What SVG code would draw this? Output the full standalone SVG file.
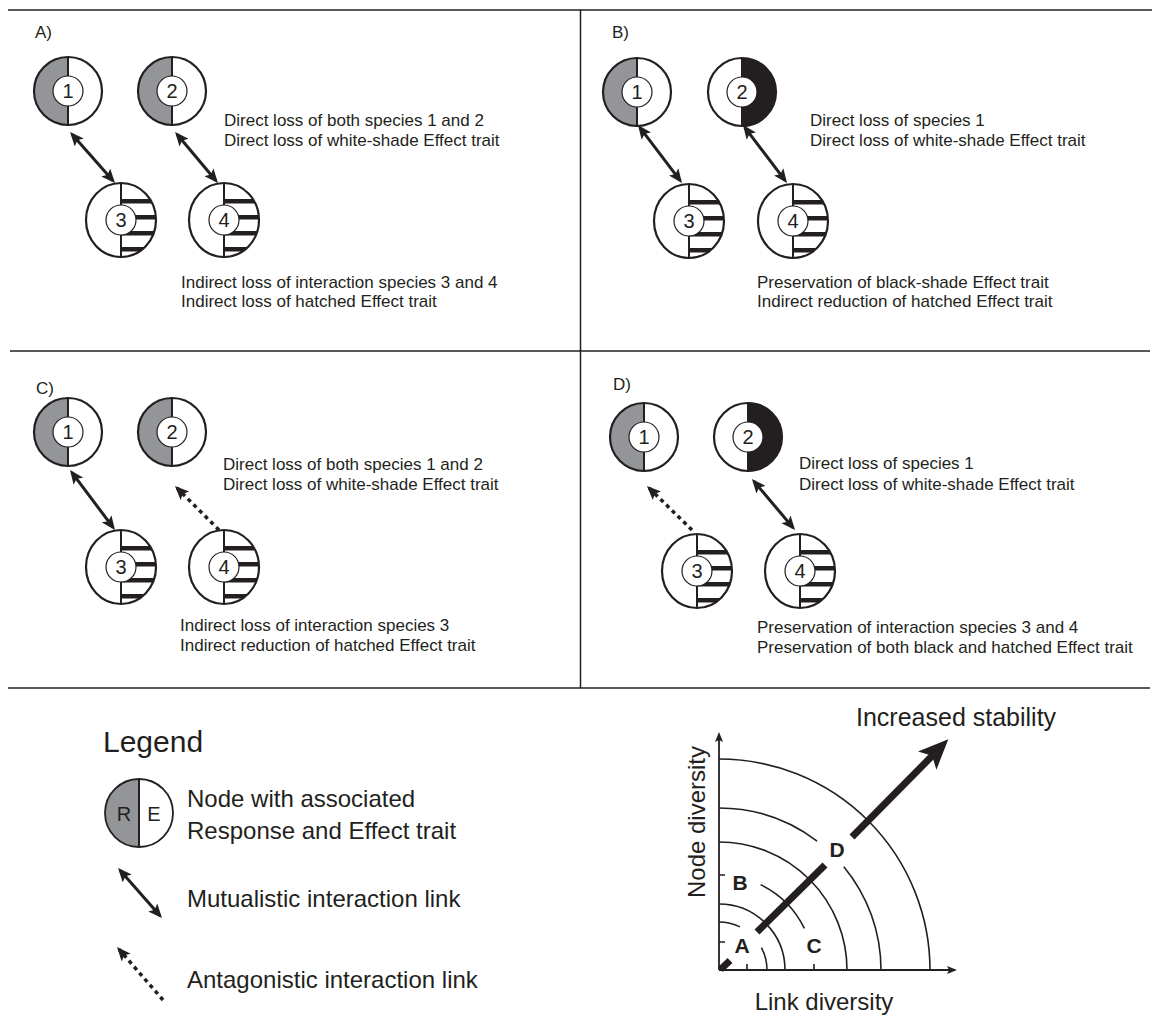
<svg xmlns="http://www.w3.org/2000/svg" width="1165" height="1017" viewBox="0 0 1165 1017">
<style>
text{font-family:"Liberation Sans",Arial,sans-serif;fill:#231f20}
.t{font-size:17px}
.lbl{font-size:17px}
.num{font-size:20px;text-anchor:middle}
.frame{stroke:#231f20;stroke-width:1.5;fill:none}
.ol{fill:none;stroke:#231f20;stroke-width:2.2}
.dv{stroke:#231f20;stroke-width:2}
.inner{fill:#fff;stroke:#231f20;stroke-width:1.2}
.mut{stroke:#231f20;stroke-width:3;fill:none;marker-start:url(#ah);marker-end:url(#ah)}
.ant{stroke:#231f20;stroke-width:3.5;stroke-dasharray:4 4;fill:none;marker-end:url(#ah)}
.arc{fill:none;stroke:#231f20;stroke-width:1.6}
.thick{stroke:#231f20;stroke-width:7;fill:none}
.big{font-size:24px}
.bl{font-size:21px;font-weight:bold;text-anchor:middle}
</style>
<defs>
<marker id="ah" viewBox="0 0 14 12" refX="11" refY="6" markerWidth="14" markerHeight="12" markerUnits="userSpaceOnUse" orient="auto-start-reverse"><path d="M0,0 L14,6 L0,12 L3,6 z" fill="#231f20"/></marker>
<marker id="ax" viewBox="0 0 10 8" refX="8" refY="4" markerWidth="10" markerHeight="8" markerUnits="userSpaceOnUse" orient="auto"><path d="M0,0 L10,4 L0,8 L2,4 z" fill="#231f20"/></marker>
<clipPath id="rhc" clipPathUnits="userSpaceOnUse"><path d="M0,-37 A35,37 0 0 1 0,37 Z"/></clipPath>
<g id="gn">
<path d="M0,-34 A34,34 0 0 0 0,34 Z" fill="#939598"/>
<circle r="34" class="ol"/>
<line x1="0" y1="-34" x2="0" y2="34" class="dv"/>
<circle r="15" class="inner"/>
</g>
<g id="bn">
<path d="M0,-34 A34,34 0 0 1 0,34 Z" fill="#231f20"/>
<circle r="34" class="ol"/>
<line x1="0" y1="-34" x2="0" y2="34" class="dv"/>
<circle r="15" class="inner"/>
</g>
<g id="hn">
<g clip-path="url(#rhc)" fill="#231f20">
<rect x="0" y="-21" width="36" height="4.5"/>
<rect x="0" y="-5" width="36" height="4.5"/>
<rect x="0" y="11" width="36" height="4.5"/>
<rect x="0" y="27" width="36" height="4.5"/>
</g>
<ellipse rx="35" ry="37" class="ol"/>
<line x1="0" y1="-37" x2="0" y2="37" class="dv"/>
<circle r="15" class="inner"/>
</g>
</defs>

<g id="frame" class="frame">
<line x1="8" y1="10" x2="1152" y2="10"/>
<line x1="10" y1="351" x2="1150" y2="351"/>
<line x1="8" y1="688" x2="1150" y2="688"/>
<line x1="580.5" y1="10" x2="580.5" y2="688"/>
</g>

<!-- Panel A -->
<g id="panelA">
<text class="lbl" x="35" y="38">A)</text>
<g id="A1" transform="translate(68,91)"><use href="#gn"/><text class="num" y="7">1</text></g>
<g id="A2" transform="translate(172,91)"><use href="#gn"/><text class="num" y="7">2</text></g>
<g id="A3" transform="translate(121,220)"><use href="#hn"/><text class="num" y="7">3</text></g>
<g id="A4" transform="translate(224,220)"><use href="#hn"/><text class="num" y="7">4</text></g>
<text class="t" x="224" y="126">Direct loss of both species 1 and 2</text>
<text class="t" x="224" y="146">Direct loss of white-shade Effect trait</text>
<text class="t" x="181" y="288">Indirect loss of interaction species 3 and 4</text>
<text class="t" x="181" y="307">Indirect loss of hatched Effect trait</text>
</g>

<!-- Panel B -->
<g id="panelB">
<text class="lbl" x="612" y="38">B)</text>
<g id="B1" transform="translate(637,92)"><use href="#gn"/><text class="num" y="7">1</text></g>
<g id="B2" transform="translate(742,92)"><use href="#bn"/><text class="num" y="7">2</text></g>
<g id="B3" transform="translate(689,221)"><use href="#hn"/><text class="num" y="7">3</text></g>
<g id="B4" transform="translate(793,221)"><use href="#hn"/><text class="num" y="7">4</text></g>
<text class="t" x="810" y="126">Direct loss of species 1</text>
<text class="t" x="810" y="146">Direct loss of white-shade Effect trait</text>
<text class="t" x="757" y="288">Preservation of black-shade Effect trait</text>
<text class="t" x="757" y="307">Indirect reduction of hatched Effect trait</text>
</g>

<!-- Panel C -->
<g id="panelC">
<text class="lbl" x="36" y="394">C)</text>
<g id="C1" transform="translate(68,432)"><use href="#gn"/><text class="num" y="7">1</text></g>
<g id="C2" transform="translate(172,432)"><use href="#gn"/><text class="num" y="7">2</text></g>
<g id="C3" transform="translate(121,567)"><use href="#hn"/><text class="num" y="7">3</text></g>
<g id="C4" transform="translate(224,567)"><use href="#hn"/><text class="num" y="7">4</text></g>
<text class="t" x="223" y="470">Direct loss of both species 1 and 2</text>
<text class="t" x="223" y="490">Direct loss of white-shade Effect trait</text>
<text class="t" x="180" y="631">Indirect loss of interaction species 3</text>
<text class="t" x="180" y="651">Indirect reduction of hatched Effect trait</text>
</g>

<!-- Panel D -->
<g id="panelD">
<text class="lbl" x="613" y="390">D)</text>
<g id="D1" transform="translate(644,437)"><use href="#gn"/><text class="num" y="7">1</text></g>
<g id="D2" transform="translate(748,437)"><use href="#bn"/><text class="num" y="7">2</text></g>
<g id="D3" transform="translate(697,571)"><use href="#hn"/><text class="num" y="7">3</text></g>
<g id="D4" transform="translate(800,571)"><use href="#hn"/><text class="num" y="7">4</text></g>
<text class="t" x="799" y="469">Direct loss of species 1</text>
<text class="t" x="799" y="490">Direct loss of white-shade Effect trait</text>
<text class="t" x="757" y="633">Preservation of interaction species 3 and 4</text>
<text class="t" x="757" y="653">Preservation of both black and hatched Effect trait</text>
</g>

<!-- Connectors -->
<g id="connectors">
<line class="mut" x1="72" y1="134.3" x2="113" y2="180.7"/>
<line class="mut" x1="177" y1="134.3" x2="216" y2="180.7"/>
<line class="mut" x1="639.8" y1="127.4" x2="680.2" y2="180.6"/>
<line class="mut" x1="744.8" y1="127.4" x2="785.2" y2="180.6"/>
<line class="mut" x1="71.8" y1="472.4" x2="113.2" y2="527.6"/>
<line class="ant" x1="219" y1="530" x2="177.1" y2="488.1"/>
<line class="ant" x1="692" y1="530" x2="649.1" y2="488.1"/>
<line class="mut" x1="753.9" y1="481.3" x2="793.1" y2="527.7"/>
</g>

<!-- Legend -->
<g id="legend">
<text x="103" y="752" style="font-size:30px">Legend</text>
<g id="legendNode" transform="translate(139,813)">
<path d="M0,-34 A34,34 0 0 0 0,34 Z" fill="#939598"/>
<circle r="34" fill="none" stroke="#231f20" stroke-width="1.8"/>
<line x1="0" y1="-34" x2="0" y2="34" stroke="#231f20" stroke-width="2"/>
<text x="-15" y="8" style="font-size:20px;text-anchor:middle">R</text>
<text x="15" y="8" style="font-size:20px;text-anchor:middle">E</text>
</g>
<text class="big" x="187" y="807">Node with associated</text>
<text class="big" x="187" y="839">Response and Effect trait</text>
<line class="mut" x1="120" y1="870.3" x2="160" y2="915.7"/>
<text class="big" x="187" y="907">Mutualistic interaction link</text>
<line class="ant" x1="163" y1="1000" x2="119" y2="949.3"/>
<text class="big" x="187" y="988">Antagonistic interaction link</text>
</g>

<!-- Stability chart -->
<g id="chart">
<line x1="719" y1="970" x2="719" y2="734" stroke="#231f20" stroke-width="1.8" marker-end="url(#ax)"/>
<line x1="719" y1="970" x2="955" y2="970" stroke="#231f20" stroke-width="1.8" marker-end="url(#ax)"/>
<path class="arc" d="M719,759 A211,211 0 0 1 930,970"/>
<path class="arc" d="M719,808 A162,162 0 0 1 817.1,841.1"/>
<path class="arc" d="M843.8,866.7 A162,162 0 0 1 881,970"/>
<path class="arc" d="M719,842 A128,128 0 0 1 847,970"/>
<path class="arc" d="M760.6,884.6 A95,95 0 0 1 804.4,928.4"/>
<path class="arc" d="M719,904 A66,66 0 0 1 785,970"/>
<path class="arc" d="M719,922 A48,48 0 0 1 740,926.9"/>
<path class="arc" d="M761.4,947.5 A48,48 0 0 1 767,970"/>
<path class="arc" d="M719,875 h6 M719,942 h6 M814,970 v-6 M747,970 v-6"/>
<line class="thick" x1="720.5" y1="969.5" x2="730" y2="960.5"/>
<line class="thick" x1="757" y1="932" x2="825" y2="865"/>
<line class="thick" x1="852" y1="837" x2="933" y2="755"/>
<path d="M948.3,739.3 L936.4,769.7 L932.1,755.7 L918,751.5 Z" fill="#231f20"/>
<text class="bl" x="742" y="953">A</text>
<text class="bl" x="740" y="890">B</text>
<text class="bl" x="814" y="953">C</text>
<text class="bl" x="837" y="857">D</text>
<text class="big" x="856" y="726" style="font-size:25px">Increased stability</text>
<text class="big" x="824" y="1010" text-anchor="middle">Link diversity</text>
<text class="big" transform="translate(705,822) rotate(-90)" text-anchor="middle">Node diversity</text>
</g>
</svg>
